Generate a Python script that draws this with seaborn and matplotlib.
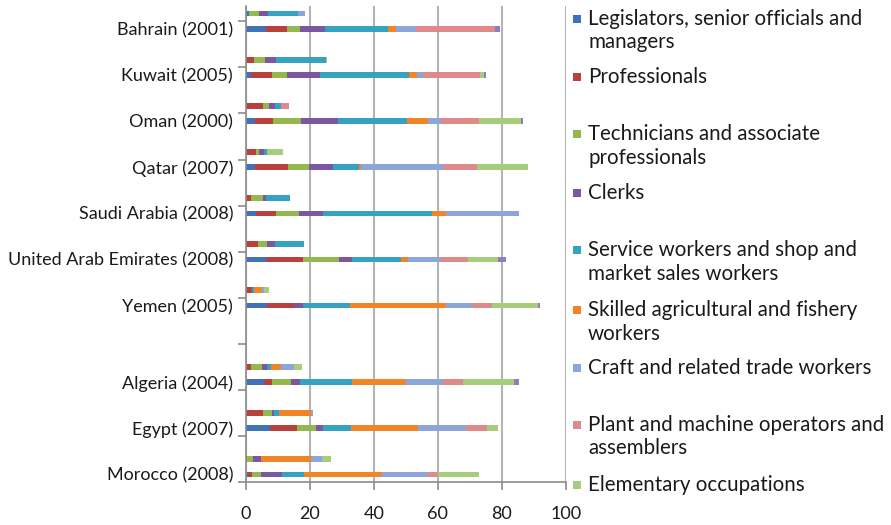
import numpy as np
import pandas as pd
import matplotlib
matplotlib.use("Agg")
import matplotlib.pyplot as plt
import seaborn as sns
from matplotlib.patches import Rectangle

# Countries (survey year), top to bottom
countries = ["Bahrain (2001)", "Kuwait (2005)", "Oman (2000)", "Qatar (2007)",
             "Saudi Arabia (2008)", "United Arab Emirates (2008)", "Yemen (2005)",
             "Algeria (2004)", "Egypt (2007)", "Morocco (2008)"]
regions = ["Gulf", "Gulf", "Gulf", "Gulf", "Gulf", "Gulf", "Gulf",
           "North Africa", "North Africa", "North Africa"]

occupations = ["Legislators, senior officials and\nmanagers",
               "Professionals",
               "Technicians and associate\nprofessionals",
               "Clerks",
               "Service workers and shop and\nmarket sales workers",
               "Skilled agricultural and fishery\nworkers",
               "Craft and related trade workers",
               "Plant and machine operators and\nassemblers",
               "Elementary occupations",
               "Not classified"]

# Share of total employment (%), women (upper bar) per country
legislators_f = [1.1, 0.0, 0.0, 0.0, 0.0, 0.0, 0.0, 0.0, 0.4, 0.0]
professionals_f = [0.0, 2.7, 5.6, 3.2, 1.7, 4.0, 1.9, 1.7, 5.2, 0.6]
technicians_f = [3.2, 3.4, 1.8, 1.0, 3.7, 2.8, 0.0, 3.3, 2.6, 1.8]
clerks_f = [2.8, 3.4, 1.8, 1.6, 0.9, 2.4, 0.0, 1.6, 0.8, 2.4]
service_f = [9.4, 15.5, 1.8, 0.8, 7.6, 9.1, 0.8, 1.4, 1.5, 0.0]
agriculture_f = [0.0, 0.0, 0.0, 0.0, 0.0, 0.0, 2.5, 3.0, 9.8, 15.6]
craft_f = [2.1, 0.0, 0.0, 0.0, 0.0, 0.0, 0.5, 4.2, 0.7, 3.4]
plant_f = [0.0, 0.0, 2.7, 0.0, 0.0, 0.0, 0.0, 0.0, 0.0, 0.0]
elementary_f = [0.0, 0.3, 0.0, 5.2, 0.0, 0.0, 1.7, 2.3, 0.0, 2.9]
other_f = [0.0, 0.0, 0.0, 0.0, 0.0, 0.0, 0.0, 0.0, 0.0, 0.0]

# Share of total employment (%), men (lower bar) per country
legislators_m = [6.3, 1.7, 3.0, 3.0, 3.2, 6.6, 6.6, 5.8, 7.6, 0.7]
professionals_m = [6.5, 6.5, 5.7, 10.4, 6.3, 11.2, 8.6, 2.6, 8.4, 1.4]
technicians_m = [4.2, 4.8, 8.6, 6.5, 7.3, 11.5, 0.0, 5.7, 6.0, 2.7]
clerks_m = [7.8, 10.2, 11.5, 7.5, 7.3, 3.8, 2.6, 2.9, 2.3, 6.5]
service_m = [19.6, 27.9, 21.7, 8.0, 34.2, 15.3, 14.8, 16.1, 8.6, 7.0]
agriculture_m = [2.5, 2.3, 6.3, 0.7, 4.3, 2.4, 30.0, 16.9, 21.0, 24.2]
craft_m = [6.2, 1.9, 4.2, 25.6, 22.8, 9.9, 8.0, 11.7, 14.9, 14.3]
plant_m = [24.7, 17.9, 12.0, 10.6, 0.0, 8.8, 6.2, 6.1, 6.7, 3.4]
elementary_m = [0.0, 1.2, 13.0, 15.9, 0.0, 9.2, 14.4, 16.1, 3.2, 12.8]
other_m = [1.6, 0.6, 0.5, 0.0, 0.0, 2.6, 0.8, 1.4, 0.0, 0.0]

women = [legislators_f, professionals_f, technicians_f, clerks_f, service_f,
         agriculture_f, craft_f, plant_f, elementary_f, other_f]
men = [legislators_m, professionals_m, technicians_m, clerks_m, service_m,
       agriculture_m, craft_m, plant_m, elementary_m, other_m]

colors = ["#3F72B8", "#B8403D", "#93B94E", "#7A57A0", "#34A2C0",
          "#F28428", "#8CA6D9", "#DE8A8A", "#A6CD7B", "#8B7FBF"]

# Row positions: three rows per country, two extra rows between regions
slot = []
extra = 0
for i, r in enumerate(regions):
    if i > 0 and r != regions[i - 1]:
        extra += 2
    slot.append(3 * i + extra)

records = []
for i, c in enumerate(countries):
    for sex, table, offset in (("Women", women, 0), ("Men", men, 1)):
        end = 0.0
        for k, occ in enumerate(occupations):
            end += table[k][i]
            records.append({"country": c, "sex": sex, "occupation": occ,
                            "pos": slot[i] + offset, "end": end})
df = pd.DataFrame(records)

sns.set_theme(style="white")
plt.rcParams["font.family"] = ["Lato", "DejaVu Sans"]

fig = plt.figure(figsize=(8.91, 5.25), dpi=100)
ax = fig.add_axes([245.5 / 891, 1 - 482 / 525, (566 - 245.5) / 891, 476 / 525])

# Stacked bars: draw cumulative totals from the last occupation to the first
for k in range(len(occupations) - 1, -1, -1):
    sub = df[df["occupation"] == occupations[k]]
    sns.barplot(data=sub, x="end", y="pos", orient="h", native_scale=True,
                color=colors[k], saturation=1, width=0.36, errorbar=None,
                linewidth=0, ax=ax)

ax.set_xlim(0, 100)
ax.set_ylim(30.5, -0.5)
ax.set_xlabel("")
ax.set_ylabel("")

grid_color = "#B4B4B4"
ax.set_xticks(np.arange(0, 101, 20))
ax.xaxis.grid(True, color=grid_color, linewidth=1.5)
ax.yaxis.grid(False)
ax.set_axisbelow(True)

lower_rows = [s + 1 for s in slot]
ax.set_yticks(lower_rows, labels=countries)
ax.set_yticks(np.arange(0.5, 31, 3), minor=True)

for side in ("top", "right"):
    ax.spines[side].set_visible(False)
for side in ("left", "bottom"):
    ax.spines[side].set_color("#8C8C8C")
    ax.spines[side].set_linewidth(1.2)

ax.tick_params(axis="y", which="major", length=0, pad=9, labelsize=13,
               labelcolor="#1a1a1a")
ax.tick_params(axis="y", which="minor", left=True, length=6, width=1.2,
               color="#8C8C8C", direction="out")
ax.tick_params(axis="x", which="major", bottom=True, length=6, width=1.2,
               color="#8C8C8C", direction="out", pad=11, labelsize=13,
               labelcolor="#1a1a1a")

# Legend on the right
first_line_y = [19, 77, 134, 193, 250, 310, 368, 425, 485]
line_gap = 23.5
for k, label in enumerate(occupations[:9]):
    y0 = first_line_y[k]
    fig.patches.append(Rectangle((573 / 891, 1 - (y0 + 4) / 525), 8 / 891, 8 / 525,
                                 transform=fig.transFigure, facecolor=colors[k],
                                 edgecolor="none"))
    for j, line in enumerate(label.split("\n")):
        fig.text(588 / 891, 1 - (y0 + j * line_gap) / 525, line, ha="left",
                 va="center", fontsize=14.8, color="#1a1a1a")

fig.savefig("out.png", dpi=100)
